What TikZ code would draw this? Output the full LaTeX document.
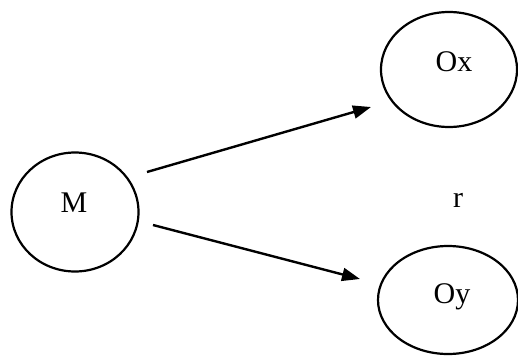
\documentclass[tikz,border=0pt]{standalone}
\usepackage{fontspec}
\setmainfont{Liberation Serif}
\usetikzlibrary{shapes.geometric,arrows.meta}
\tikzset{
  oval/.style={draw, ellipse, line width=2.2pt, inner sep=0pt},
  lbl/.style={anchor=base, inner sep=0pt, font=\fontsize{30}{36}\selectfont},
  arr/.style={line width=2.4pt, -{Triangle[length=18pt,width=13pt]}}
}
\begin{document}
\begin{tikzpicture}[x=1pt,y=-1pt]
\useasboundingbox (0,0) rectangle (518,356);
\node[oval, minimum width=127pt, minimum height=119pt] (M) at (75,212) {};
\node[oval, minimum width=136pt, minimum height=115pt] (Ox) at (449,69.5) {};
\node[oval, minimum width=140pt, minimum height=108pt] (Oy) at (448,300) {};
\node[lbl] (tM) at (74,212) {M};
\node[lbl] (tOx) at (454,71) {Ox};
\node[lbl] (tOy) at (452,303) {Oy};
\node[lbl] (r) at (458,207) {r};
\coordinate (a1s) at (147,172);
\coordinate (a1e) at (371,107);
\coordinate (a2s) at (153,225);
\coordinate (a2e) at (360,279);
\draw[arr] (a1s) -- (a1e);
\draw[arr] (a2s) -- (a2e);
\end{tikzpicture}
\end{document}
